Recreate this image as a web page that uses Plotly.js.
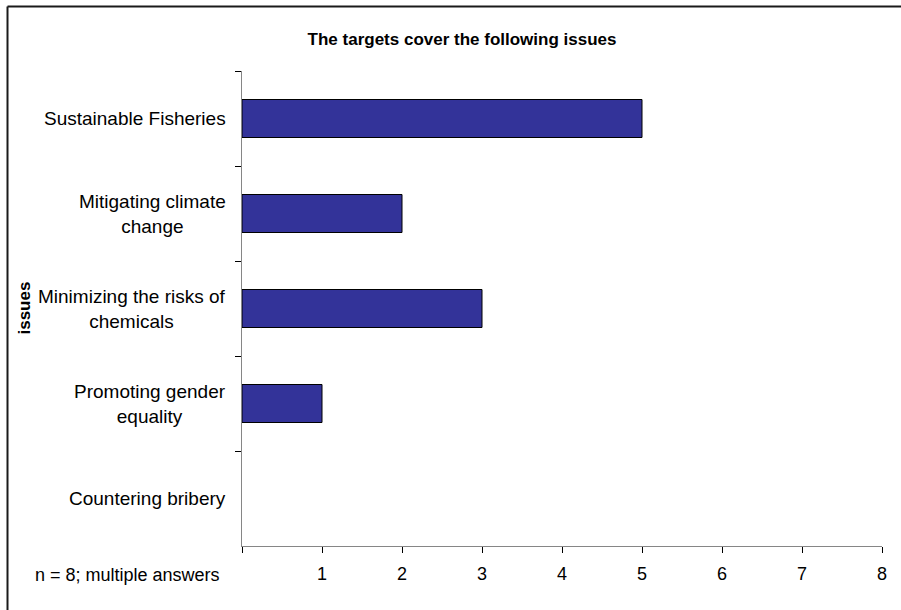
<!DOCTYPE html>
<html>
<head>
<meta charset="utf-8">
<script src="https://cdn.plot.ly/plotly-3.0.1.min.js"></script>
<style>
  html, body { margin: 0; padding: 0; background: #ffffff; }
  #chart { width: 901px; height: 610px; }
</style>
</head>
<body>
<div id="chart"></div>
<script>
// Issues covered by the targets (top to bottom)
const issues = [
  'Sustainable Fisheries',
  'Mitigating climate<br>change',
  'Minimizing the risks of<br>chemicals',
  'Promoting gender<br>equality',
  'Countering bribery'
];
const counts = [5, 2, 3, 1, 0];

const xTickVals = [0, 1, 2, 3, 4, 5, 6, 7, 8];
const xTickText = ['', '1', '2', '3', '4', '5', '6', '7', '8'];

const chartTitle = 'The targets cover the following issues';
const yTitle = 'issues';
const note = 'n = 8; multiple answers';

const FONT = 'Arial, "Liberation Sans", sans-serif';

const trace = {
  type: 'bar',
  orientation: 'h',
  y: issues,
  x: counts,
  marker: {
    color: '#333399',
    // no outline on empty bars
    line: { color: '#000000', width: counts.map(v => (v > 0 ? 1 : 0)) }
  },
  hoverinfo: 'skip'
};

// Category labels drawn as centred multi-line annotations beside the axis
const labelAnnotations = issues.map(name => ({
  xref: 'paper', yref: 'y',
  x: 0, y: name,
  xanchor: 'right', yanchor: 'middle',
  xshift: -14,
  align: 'center',
  text: name,
  showarrow: false,
  font: { family: FONT, size: 19, color: '#000000' }
}));

const layout = {
  width: 901,
  height: 610,
  margin: { l: 242, r: 19, t: 71, b: 64, pad: 0 },
  paper_bgcolor: '#ffffff',
  plot_bgcolor: '#ffffff',
  showlegend: false,
  bargap: 0.6,
  font: { family: FONT, size: 18, color: '#000000' },
  title: {
    text: chartTitle,
    xref: 'container', yref: 'container',
    x: 0.5128, y: 0.936,
    xanchor: 'center', yanchor: 'middle',
    font: { family: FONT, size: 17, weight: 'bold', color: '#000000' }
  },
  xaxis: {
    range: [0, 8],
    tickmode: 'array',
    tickvals: xTickVals,
    ticktext: xTickText,
    ticks: 'outside',
    ticklen: 6,
    tickcolor: '#000000',
    tickwidth: 1,
    showline: true,
    linecolor: '#868686',
    linewidth: 1,
    showgrid: false,
    zeroline: false,
    ticklabelstandoff: 5,
    tickfont: { family: FONT, size: 18, color: '#000000' },
    fixedrange: true
  },
  yaxis: {
    type: 'category',
    categoryorder: 'array',
    categoryarray: issues,
    range: [4.5, -0.5],
    tickson: 'boundaries',
    ticks: 'outside',
    ticklen: 6,
    tickcolor: '#000000',
    tickwidth: 1,
    showticklabels: false,
    showline: true,
    linecolor: '#868686',
    linewidth: 1,
    showgrid: false,
    zeroline: false,
    fixedrange: true
  },
  annotations: labelAnnotations.concat([
    {
      xref: 'paper', yref: 'paper',
      x: -0.3406, y: 0.5,
      xanchor: 'center', yanchor: 'middle',
      textangle: -90,
      text: yTitle,
      showarrow: false,
      font: { family: FONT, size: 17, weight: 'bold', color: '#000000' }
    },
    {
      xref: 'paper', yref: 'paper',
      x: -0.3266, y: -0.06,
      xanchor: 'left', yanchor: 'middle',
      text: note,
      showarrow: false,
      font: { family: FONT, size: 18, color: '#000000' }
    }
  ]),
  shapes: [
    // frame: top and left edges
    { type: 'line', xref: 'paper', yref: 'paper', x0: -0.3664, x1: 1.04, y0: 1.1358, y1: 1.1358,
      line: { color: '#1a1a1a', width: 2 } },
    { type: 'line', xref: 'paper', yref: 'paper', x0: -0.3664, x1: -0.3664, y0: 1.1358, y1: -0.15,
      line: { color: '#1a1a1a', width: 2 } }
  ]
};

Plotly.newPlot('chart', [trace], layout, { displayModeBar: false, staticPlot: true });
</script>
</body>
</html>
